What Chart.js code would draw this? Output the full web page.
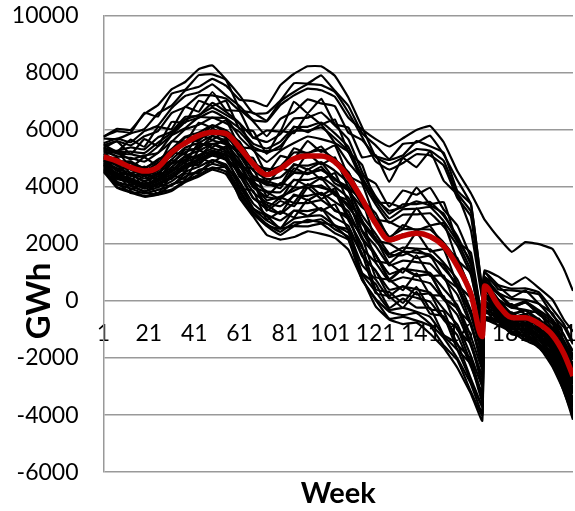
<!DOCTYPE html>
<html>
<head>
<meta charset="utf-8">
<title>Weekly storage scenarios</title>
<script src="https://cdn.jsdelivr.net/npm/chart.js@4.4.1/dist/chart.umd.min.js"></script>
<style>
  html, body { margin: 0; padding: 0; background: #ffffff; }
  #wrap { width: 575px; height: 511px; }
</style>
</head>
<body>
<div id="wrap"><canvas id="chart" width="575" height="511"></canvas></div>
<script>
// Sampled simulation weeks (x values shared by every series)
const weeks = [1,7,13,19,25,31,37,43,49,55,61,67,73,79,85,91,97,103,109,115,121,127,133,139,145,151,157,163,168,169,175,181,187,193,199,204,208];

// Expected (mean) storage, GWh
const meanStorage = [5050,4900,4680,4550,4680,5200,5530,5790,5910,5860,5380,4800,4420,4630,4980,5080,5080,4870,4330,3570,2720,2140,2280,2370,2260,1920,1220,240,-1250,525,-140,-580,-590,-800,-1200,-1850,-2630];

// Individual inflow scenarios, GWh
const s01 = [5750,6030,5990,6550,6860,7410,7670,8120,8250,7760,7200,6570,6580,7020,7630,7620,7900,7360,6830,5880,5450,4970,5500,5550,5790,5130,4230,3390,420,1070,860,560,830,450,40,-660,-1070];
const s02 = [5690,5670,5870,6020,6570,6840,7370,7500,7780,7540,7050,7000,6820,7560,7960,8220,8220,7890,7120,6090,5050,4790,5020,5320,5260,4910,3760,3130,180,1020,560,430,440,300,-290,-810,-1440];
const s03 = [5520,5690,5560,5950,6140,6750,7180,7310,7590,7200,6830,6340,6290,6870,7200,7440,7380,7150,6420,6010,5670,5410,5700,5990,6130,5560,4550,3770,3000,2850,2230,1720,2060,1990,1820,1120,350];
const s04 = [5760,5950,5900,6590,6460,7260,7400,7910,7940,7740,6730,6290,5770,6380,6620,7060,6920,6820,5890,5640,5070,4940,5100,5600,5420,5190,3860,3390,350,830,520,130,370,-100,-440,-1210,-1750];
const s05 = [5460,5600,5450,5770,5950,6580,6790,7200,7200,7090,6670,6590,6320,6990,7320,7590,7560,7320,6600,5750,4890,4600,4830,5140,5100,4740,3610,2960,100,850,280,70,40,-100,-660,-1190,-1900];
const s06 = [5480,5230,5650,5400,6090,6020,6800,6630,7320,6690,6650,5710,5970,5940,6980,6580,7080,6190,6070,5030,5110,4170,5010,4690,5240,4210,3730,2480,90,1010,410,370,320,230,-500,-920,-1520];
const s07 = [5360,5590,5140,5670,5430,6270,6250,7010,6830,7010,6020,5950,5150,5950,5880,6540,6190,6360,5220,4770,3460,3430,3270,3970,3390,3460,2070,1690,-650,650,250,-240,-40,-480,-810,-1600,-2200];
const s08 = [5370,5220,5230,5180,5550,5890,6360,6510,6770,6520,6220,5720,5570,5840,6390,6420,6600,6150,5660,4520,3660,3060,3390,3390,3470,2980,2270,1250,-660,700,240,-210,-60,-400,-740,-1470,-2060];
const s09 = [5300,5260,5380,5310,5730,5930,6450,6490,6940,6620,6220,5310,5250,5330,6110,5910,6180,5540,5220,4390,4110,3300,3870,3720,3960,3200,2640,1500,-550,800,-140,-110,-460,-340,-1210,-1430,-2360];
const s10 = [5320,5160,5140,5040,5410,5810,6270,6420,6640,6390,6050,5510,5340,5580,6080,6100,6250,5870,5390,4330,3510,2890,3210,3230,3290,2790,2080,1070,-740,720,290,-170,-10,-330,-660,-1390,-1970];
const s11 = [5200,5210,4960,5100,5190,5800,6050,6440,6420,6400,5740,5280,4870,5260,5530,5760,5670,5520,4840,4290,3560,3160,3280,3490,3340,3060,2150,1370,-740,700,60,-240,-310,-440,-950,-1480,-2290];
const s12 = [5250,5070,5010,4880,5190,5570,6010,6170,6420,6220,5920,5400,5190,5430,5960,5960,6080,5700,5230,4200,3380,2740,3020,3030,3070,2610,1940,910,-830,570,50,-440,-330,-650,-980,-1720,-2350];
const s13 = [5110,5240,4690,5030,4730,5590,5540,6240,6070,6330,5400,5320,4440,5080,4970,5600,5220,5450,4380,4110,2870,2770,2550,3240,2650,2730,1430,970,-1030,530,40,-480,-330,-750,-1040,-1840,-2530];
const s14 = [5150,4920,4840,4660,4920,5320,5750,5900,6150,5980,5560,4850,4580,4720,5200,5190,5290,4960,4510,3590,2780,2100,2330,2310,2300,1870,1280,200,-1200,520,-50,-570,-460,-780,-1090,-1850,-2510];
const s15 = [5000,4830,4830,4550,4840,5060,5600,5610,6040,5800,5580,4750,4640,4600,5350,5160,5410,4800,4500,3550,3070,2190,2660,2470,2620,1900,1500,290,-1210,610,-370,-400,-770,-620,-1480,-1750,-2770];
const s16 = [5080,4800,4670,4450,4680,5100,5530,5670,5880,5730,5290,4570,4270,4330,4750,4740,4860,4560,4140,3370,2760,2080,2250,2440,2210,1960,1160,290,-1290,580,-180,-520,-630,-750,-1260,-1810,-2680];
const s17 = [4960,5030,4450,4710,4350,5200,5130,5830,5650,5950,5050,5010,4100,4640,4530,5160,4780,5030,3970,3530,2120,2010,1740,2390,1730,1810,580,90,-1600,370,-110,-650,-520,-960,-1280,-2110,-2840];
const s18 = [5020,4730,4600,4370,4570,4950,5370,5540,5780,5610,5100,4360,4060,4080,4500,4490,4580,4270,3880,3000,2350,1660,1870,1830,1810,1340,750,-340,-1650,240,-220,-730,-680,-1020,-1370,-2180,-2880];
const s19 = [4910,4630,4640,4380,4660,4800,5300,5320,5770,5540,5220,4360,4200,4070,4800,4600,4850,4240,3990,2810,2200,1320,1730,1500,1590,820,460,-780,-2040,490,-440,-460,-850,-720,-1590,-1870,-2910];
const s20 = [4950,4620,4500,4290,4490,4830,5210,5380,5620,5480,4940,4180,3840,3810,4230,4240,4340,4000,3620,2760,2200,1530,1730,1690,1630,1140,570,-510,-1780,110,-300,-810,-770,-1100,-1460,-2300,-3050];
const s21 = [4840,4830,4250,4550,4170,4930,4830,5540,5380,5690,4700,4630,3670,4130,3990,4630,4250,4480,3460,2840,1410,1310,990,1600,880,890,-300,-790,-2320,190,-220,-740,-650,-1090,-1420,-2300,-3060];
const s22 = [4910,4550,4410,4200,4370,4690,5080,5260,5490,5330,4740,3980,3640,3580,3970,3960,4050,3720,3380,2470,1920,1240,1410,1360,1300,790,220,-870,-2100,-10,-350,-850,-830,-1190,-1580,-2450,-3190];
const s23 = [4790,4460,4450,4180,4450,4550,5040,5050,5490,5250,4850,3990,3810,3570,4250,4040,4300,3710,3510,2210,1620,730,1120,870,940,100,-250,-1500,-2640,260,-560,-550,-1000,-900,-1820,-2150,-3200];
const s24 = [4860,4450,4300,4100,4280,4580,4950,5110,5340,5190,4560,3810,3450,3320,3680,3680,3790,3470,3140,2160,1610,940,1120,1060,980,420,-150,-1240,-2380,-70,-380,-890,-860,-1240,-1620,-2500,-3250];
const s25 = [4720,4650,4070,4380,3970,4670,4550,5270,5110,5420,4340,4250,3260,3620,3450,4090,3710,3940,2960,2240,830,740,380,970,210,170,-1010,-1500,-2910,-120,-380,-890,-840,-1310,-1690,-2640,-3440];
const s26 = [4790,4350,4220,4030,4190,4440,4780,4970,5210,5070,4390,3610,3220,3050,3420,3430,3530,3190,2870,1850,1340,680,830,740,620,50,-490,-1570,-2660,-200,-460,-950,-960,-1310,-1720,-2640,-3430];
const s27 = [4660,4270,4270,4030,4260,4280,4730,4770,5220,4990,4490,3600,3370,3060,3730,3530,3780,3150,2990,1600,1050,180,520,230,250,-630,-950,-2190,-3220,-60,-750,-700,-1180,-1090,-2070,-2500,-3600];
const s28 = [4740,4280,4140,3930,4070,4300,4650,4850,5090,4930,4190,3410,3020,2820,3160,3150,3240,2910,2630,1570,1060,390,500,410,290,-290,-830,-1930,-2980,-330,-520,-990,-1020,-1400,-1840,-2790,-3570];
const s29 = [4620,4490,3890,4190,3750,4400,4270,5010,4850,5140,3950,3860,2850,3140,2930,3550,3160,3380,2470,1660,270,160,-240,320,-450,-540,-1700,-2220,-3520,-370,-500,-980,-980,-1490,-1920,-2920,-3730];
const s30 = [4700,4180,4020,3840,3980,4190,4520,4700,4930,4780,4020,3240,2820,2560,2880,2960,2990,2650,2390,1260,750,90,210,110,-30,-660,-1200,-2300,-3270,-430,-580,-1060,-1120,-1500,-1940,-2900,-3710];
const s31 = [4560,4080,4070,3840,4070,4040,4460,4480,4930,4710,4140,3240,2970,2540,3170,2980,3250,2630,2500,980,600,-250,80,-230,-250,-1190,-1500,-2730,-3650,-290,-870,-830,-1350,-1270,-2270,-2750,-3900];
const s32 = [4620,4080,3940,3770,3890,4050,4350,4550,4800,4660,3890,3140,2700,2420,2750,2760,2860,2510,2250,940,330,-310,-240,-380,-560,-1220,-1720,-2810,-3700,-570,-660,-1120,-1190,-1560,-2030,-3050,-3880];
const s33 = [4920,4750,4370,4450,4280,4810,4930,5460,5500,5590,4550,4150,3160,3500,3320,3960,3580,3800,2830,1940,400,310,-70,490,-290,-370,-1530,-2030,-3360,-130,-390,-870,-820,-1300,-1700,-2660,-3450];
const s34 = [4770,4320,4180,3980,4120,4360,4720,4920,5150,4990,4510,4090,3530,3660,3860,4070,3970,3830,3270,2700,2100,1630,1600,1800,1550,1250,460,-430,-1890,200,-390,-690,-860,-1010,-1580,-2220,-3140];
const s35 = [5050,4870,4890,4630,4960,5180,5720,5720,6150,5890,5390,4270,4120,3950,4650,4440,4700,4120,3880,2440,1620,770,1140,890,920,90,-240,-1480,-2630,-160,-640,-790,-1080,-1200,-1980,-2600,-3490];
const s36 = [4830,4390,4260,4070,4240,4510,4870,5040,5270,5130,4800,4380,4090,4060,4480,4450,4600,4290,3850,3280,2910,2250,2510,2510,2500,2040,1420,370,-1100,490,-90,-620,-530,-850,-1160,-1910,-2580];
const s37 = [4530,3960,3800,3650,3720,3850,4160,4360,4600,4440,3690,3040,2620,2310,2620,2610,2710,2370,2140,740,40,-620,-560,-690,-870,-1560,-2070,-3180,-4010,-690,-730,-1170,-1250,-1650,-2150,-3190,-4030];
const s38 = [4510,4140,3780,3810,3730,4090,4200,4590,4630,4680,3600,2960,2310,2150,2240,2440,2350,2210,1790,750,80,-380,-500,-420,-800,-1290,-2010,-2910,-3950,-660,-850,-1090,-1390,-1600,-2310,-3160,-4160];
const s39 = [4590,3990,3840,3680,3780,3900,4210,4420,4680,4530,3790,3120,2630,2530,2640,2840,2750,2620,2170,830,-190,-650,-810,-760,-1150,-1640,-2340,-3250,-4200,-630,-690,-1150,-1220,-1610,-2090,-3120,-3960];

const scenarios = [s01,s02,s03,s04,s05,s06,s07,s08,s09,s10,s11,s12,s13,s14,s15,s16,s17,s18,s19,s20,
                   s21,s22,s23,s24,s25,s26,s27,s28,s29,s30,s31,s32,s33,s34,s35,s36,s37,s38,s39];

// Axis tick labels
const weekTicks = [1,21,41,61,81,101,121,141,161,181,201];
const storageTicks = [-6000,-4000,-2000,0,2000,4000,6000,8000,10000];

const toPoints = vals => vals.map((v, i) => ({ x: weeks[i], y: v }));

// Rotated "GWh" label placed next to the zero line
const yTitle = {
  id: 'yTitle',
  afterDraw(chart) {
    const ctx = chart.ctx;
    const y0 = chart.scales.y.getPixelForValue(0);
    ctx.save();
    ctx.translate(50, y0);
    ctx.rotate(-Math.PI / 2);
    ctx.font = 'bold 33px Lato';
    ctx.fillStyle = '#000000';
    ctx.textAlign = 'center';
    ctx.textBaseline = 'alphabetic';
    ctx.fillText('GWh', 0, 0);
    ctx.restore();
  }
};

const datasets = [{
  label: 'Mean',
  data: toPoints(meanStorage),
  borderColor: '#C00000',
  borderWidth: 5.5,
  pointRadius: 0,
  cubicInterpolationMode: 'monotone',
  fill: false
}];
scenarios.forEach((s, k) => datasets.push({
  label: 'Scenario ' + (k + 1),
  data: toPoints(s),
  borderColor: '#000000',
  borderWidth: 2.2,
  pointRadius: 0,
  tension: 0.1,
  fill: false
}));

const tickFont = { family: 'Lato', size: 23 };

new Chart(document.getElementById('chart'), {
  type: 'line',
  data: { datasets },
  plugins: [yTitle],
  options: {
    responsive: false,
    animation: false,
    devicePixelRatio: 1,
    layout: { padding: { top: 15.5, right: 2, bottom: 0, left: 0 } },
    plugins: {
      legend: { display: false },
      tooltip: { enabled: false },
      title: {
        display: true,
        text: 'Week',
        position: 'bottom',
        fullSize: false,
        color: '#000000',
        font: { family: 'Lato', size: 29, weight: 'bold' },
        padding: { top: 4, bottom: 0 }
      }
    },
    scales: {
      x: {
        type: 'linear',
        min: 1,
        max: 208,
        position: { y: 0 },
        afterBuildTicks: axis => { axis.ticks = weekTicks.map(v => ({ value: v })); },
        afterFit: axis => { axis.paddingLeft = 0; axis.paddingRight = 0; },
        grid: { display: false, drawTicks: false },
        border: { display: false },
        ticks: {
          autoSkip: false,
          maxRotation: 0,
          padding: 19,
          color: '#000000',
          font: tickFont,
          callback: v => String(v)
        }
      },
      y: {
        min: -6000,
        max: 10000,
        afterBuildTicks: axis => { axis.ticks = storageTicks.map(v => ({ value: v })); },
        afterFit: axis => { axis.width = 103.5; axis.paddingTop = 0; axis.paddingBottom = 0; },
        grid: { color: '#999999', lineWidth: 1.5, drawTicks: false },
        border: { display: true, color: '#999999', width: 1.5 },
        ticks: {
          padding: 25,
          color: '#000000',
          font: tickFont,
          callback: v => String(v)
        }
      }
    }
  }
});
</script>
</body>
</html>
